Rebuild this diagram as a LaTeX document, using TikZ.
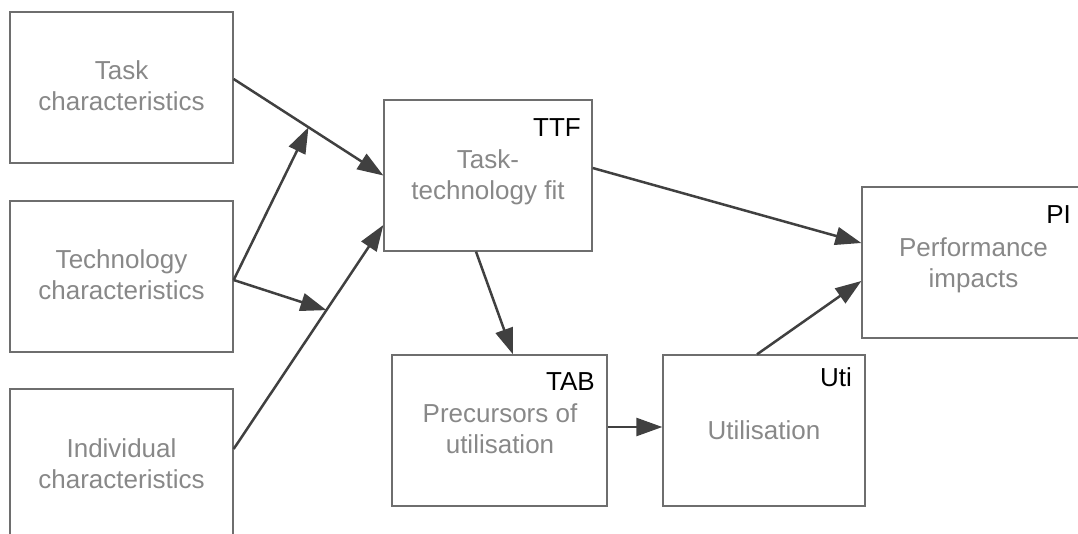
\documentclass[tikz,border=0pt]{standalone}
\usepackage{fontspec}
\setmainfont{Liberation Sans}
\usetikzlibrary{arrows.meta,calc}
\definecolor{boxline}{HTML}{6E6E6E}
\definecolor{boxtext}{HTML}{888888}
\definecolor{arrowc}{HTML}{404040}
\begin{document}
\begin{tikzpicture}[x=1pt,y=-1pt,
  box/.style={draw=boxline,line width=1.3pt,minimum height=151pt,inner sep=0pt},
  txt/.style={text=boxtext,font=\fontsize{26}{31}\selectfont,align=center,inner sep=0pt},
  tag/.style={font=\fontsize{26}{31}\selectfont,inner sep=0pt,anchor=base east},
  link/.style={draw=arrowc,line width=2.5pt,-{Triangle[length=26pt,width=18pt]}}]
\useasboundingbox (0,0) rectangle (1078,533);

% boxes
\node[box,minimum width=223pt] (task)  at (121.5,87.5)  {};
\node[box,minimum width=223pt] (tech)  at (121.5,276.5) {};
\node[box,minimum width=223pt] (indiv) at (121.5,464.5) {};
\node[box,minimum width=208pt] (ttf)   at (488,175.5)   {};
\node[box,minimum width=215pt] (tab)   at (499.5,430.5) {};
\node[box,minimum width=202pt] (uti)   at (764,430.5)   {};
\node[box,minimum width=223pt] (pi)    at (973.5,262.5) {};

% box texts
\node[txt] (task-t)  at (121.5,86.2)  {Task\\characteristics};
\node[txt] (tech-t)  at (121.5,275.2) {Technology\\characteristics};
\node[txt] (indiv-t) at (121.5,463.2) {Individual\\characteristics};
\node[txt] (ttf-t)   at (488,177.4)   {Task-\\technology fit};
\node[txt] (tab-t)   at (500,428.4)   {Precursors of\\utilisation};
\node[txt,anchor=base] (uti-t) at (764,439) {Utilisation};
\node[txt] (pi-t)    at (973.5,264.9) {Performance\\impacts};

% short labels
\node[tag] (ttf-l) at (581,136)  {TTF};
\node[tag] (tab-l) at (595,390)  {TAB};
\node[tag] (uti-l) at (852,386)  {Uti};
\node[tag] (pi-l)  at (1071,223) {PI};

% connector end points
\coordinate (a1) at ($(task.east)+(0,-8.5)$);
\coordinate (b1) at ($(tech.east)+(0,3.5)$);
\coordinate (c1) at ($(indiv.east)+(0,-15.5)$);
\coordinate (c2) at ($(ttf.west)+(0,49.5)$);
\coordinate (d1) at ($(ttf.east)+(0,-7.5)$);
\coordinate (d2) at ($(pi.west)+(0,-19.5)$);
\coordinate (e1) at ($(ttf.south)+(-12,0)$);
\coordinate (e2) at ($(tab.north)+(13.5,0)$);
\coordinate (f1) at ($(tab.east)+(0,-3.5)$);
\coordinate (f2) at ($(uti.west)+(0,-3.5)$);
\coordinate (g1) at ($(uti.north)+(-7,0)$);
\coordinate (g2) at ($(pi.west)+(0,18.5)$);

% connectors
\draw[link] (a1) -- coordinate[pos=0.5] (m1) (ttf.west);
\draw[link] (c1) -- coordinate[pos=0.62] (m2) (c2);
\draw[link] (b1) -- (m1);
\draw[link] (b1) -- (m2);
\draw[link] (d1) -- (d2);
\draw[link] (e1) -- (e2);
\draw[link] (f1) -- (f2);
\draw[link] (g1) -- (g2);
\end{tikzpicture}
\end{document}
